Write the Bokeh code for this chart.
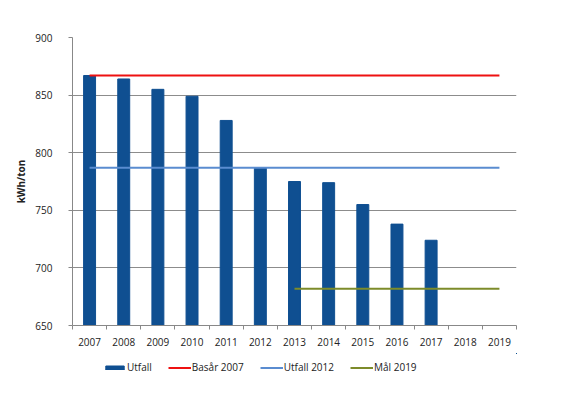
from bokeh.plotting import figure
from bokeh.models import FixedTicker, Legend, LegendItem, Range1d
from bokeh.layouts import column
from bokeh.embed import file_html
from bokeh.resources import INLINE

years = [2007, 2008, 2009, 2010, 2011, 2012, 2013, 2014, 2015, 2016, 2017, 2018, 2019]
utfall_years = [2007, 2008, 2009, 2010, 2011, 2012, 2013, 2014, 2015, 2016, 2017]
utfall = [867, 864, 855, 849, 828, 787, 775, 774, 755, 738, 724]
basar_2007 = 867
utfall_2012 = 787
mal_2019 = 682
mal_years = [2013, 2019]
y_ticks = [650, 700, 750, 800, 850, 900]
legend_labels = ["Utfall", "Basår 2007", "Utfall 2012", "Mål 2019"]

FONT = "Open Sans"
BAR = "#0f4f91"
RED = "#ee1111"
BLUE = "#5a8cd0"
OLIVE = "#7d8b2a"


def draw_series(fig):
    r0 = fig.vbar(x=utfall_years, top=utfall, bottom=650, width=0.35, fill_color=BAR, line_color=BAR)
    r1 = fig.line(x=[years[0], years[-1]], y=[basar_2007, basar_2007], line_color=RED, line_width=2)
    r2 = fig.line(x=[years[0], years[-1]], y=[utfall_2012, utfall_2012], line_color=BLUE, line_width=2)
    r3 = fig.line(x=mal_years, y=[mal_2019, mal_2019], line_color=OLIVE, line_width=2)
    return [r0, r1, r2, r3]


p = figure(frame_width=444, frame_height=288, output_backend="svg", toolbar_location=None,
           x_range=Range1d(years[0] - 0.5, years[-1] + 0.5),
           y_range=Range1d(650, 900),
           min_border_left=72, min_border_top=37, min_border_right=38, min_border_bottom=28)
p.outline_line_color = None
draw_series(p)

xt = FixedTicker(ticks=years, minor_ticks=[y - 0.5 for y in years] + [years[-1] + 0.5])
p.xaxis.ticker = xt
p.xaxis.major_tick_out = 0
p.xaxis.major_tick_in = 0
p.xaxis.minor_tick_out = 4
p.xaxis.minor_tick_in = 0
p.xaxis.minor_tick_line_color = "#888888"
p.xaxis.axis_line_color = "#888888"
p.xaxis.major_label_text_font = FONT
p.xaxis.major_label_text_font_size = "10px"
p.xaxis.major_label_text_color = "#222222"
p.xaxis.major_label_standoff = 8

p.yaxis.ticker = FixedTicker(ticks=y_ticks)
p.yaxis.minor_tick_line_color = None
p.yaxis.major_tick_out = 4
p.yaxis.major_tick_in = 0
p.yaxis.major_tick_line_color = "#888888"
p.yaxis.axis_line_color = "#888888"
p.yaxis.major_label_text_font = FONT
p.yaxis.major_label_text_font_size = "10px"
p.yaxis.major_label_text_color = "#222222"
p.yaxis.major_label_standoff = 16
p.yaxis.axis_label = "kWh/ton"
p.yaxis.axis_label_text_font = FONT
p.yaxis.axis_label_text_font_size = "10px"
p.yaxis.axis_label_text_font_style = "bold"
p.yaxis.axis_label_text_color = "#222222"
p.yaxis.axis_label_standoff = 4

p.xgrid.grid_line_color = None
p.ygrid.ticker = FixedTicker(ticks=y_ticks)
p.ygrid.grid_line_color = "#8c8c8c"
p.ygrid.grid_line_width = 1

# legend strip below the chart (its series lie outside its 0..1 view)
lg = figure(width=554, height=30, output_backend="svg", toolbar_location=None,
            x_range=Range1d(0, 1), y_range=Range1d(0, 1),
            min_border=0, min_border_left=0, min_border_right=0,
            min_border_top=0, min_border_bottom=0)
lg.axis.visible = False
lg.grid.visible = False
lg.outline_line_color = None
rs = draw_series(lg)

legend = Legend(items=[LegendItem(label=lab, renderers=[r]) for lab, r in zip(legend_labels, rs)],
                orientation="horizontal", location=(31, 9),
                label_text_font=FONT, label_text_font_size="10px", label_text_color="#222222",
                border_line_color=None, background_fill_alpha=0,
                glyph_width=23, glyph_height=5, spacing=16, label_standoff=1, padding=0,
                margin=0, label_height=12)
lg.add_layout(legend, "center")

layout = column(p, lg, spacing=0)
open("out.html", "w").write(file_html(layout, INLINE))
